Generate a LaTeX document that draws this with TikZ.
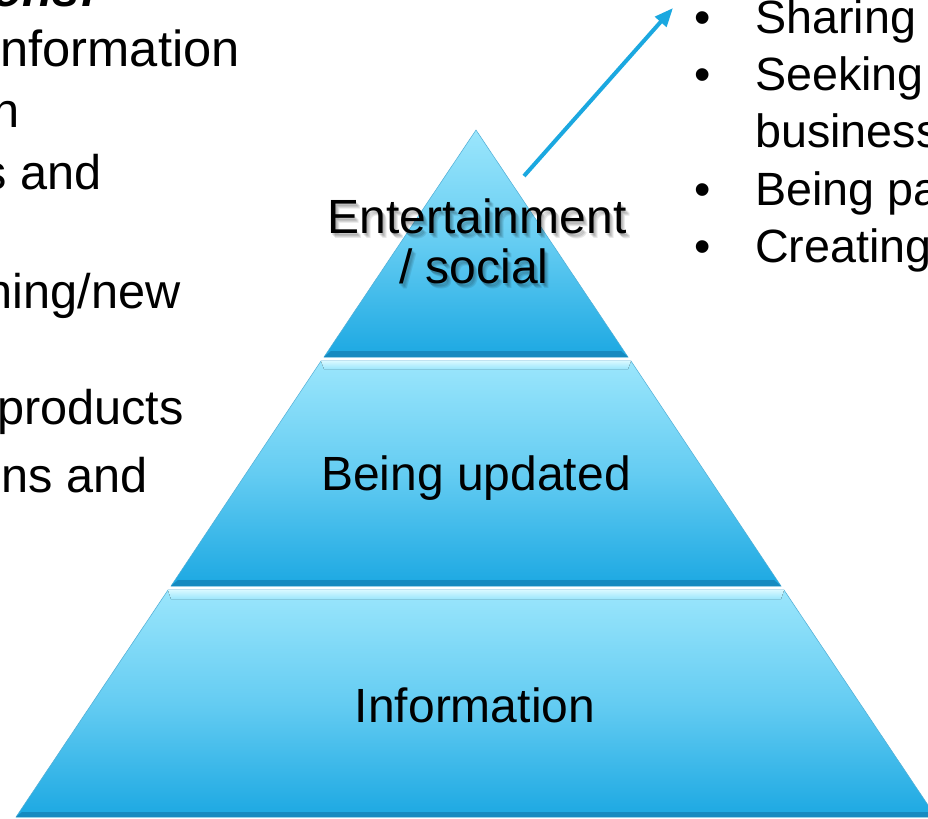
\documentclass[tikz,border=0pt]{standalone}
\usepackage{fontspec}
\setmainfont{Liberation Sans}
\usetikzlibrary{arrows.meta}
\definecolor{tiertop}{RGB}{155,230,252}
\definecolor{tiermid}{RGB}{100,204,242}
\definecolor{tierbot}{RGB}{28,168,226}
\definecolor{bevdark}{RGB}{22,138,192}
\definecolor{bevlight}{RGB}{215,248,255}
\definecolor{edgeblue}{RGB}{80,175,215}
\definecolor{arrowblue}{RGB}{27,168,224}
\tikzset{
  tier/.style={top color=tiertop, bottom color=tierbot, middle color=tiermid, draw=edgeblue, line width=0.4pt},
  bevbottom/.style={fill=bevdark, draw=none},
  bevtop/.style={top color=bevlight, bottom color=tiertop, draw=none},
  tierlabel/.style={font=\fontsize{36}{40}\selectfont, inner sep=0pt, anchor=base},
  shadowlabel/.style={tierlabel, text=black, opacity=0.09},
  lefttext/.style={font=\fontsize{36.5}{42}\selectfont, inner sep=0pt, anchor=base east},
  righttext/.style={font=\fontsize{35}{40}\selectfont, inner sep=0pt, anchor=base west},
  arrowline/.style={draw=arrowblue, line width=3pt, -{Triangle[length=14pt,width=11pt]}}
}
\begin{document}
\begin{tikzpicture}[x=0.75pt,y=-0.75pt]
\clip (0,0) rectangle (928,818);
\fill[white] (0,0) rectangle (928,818);

% tier 1 (top)
\path[tier] (476,130) -- (628,357) -- (324,357) -- cycle;
\fill[bevbottom] (324,357) -- (628,357) -- (621,351) -- (331,351) -- cycle;
% tier 2
\path[tier] (321,361) -- (631,361) -- (781,586) -- (171,586) -- cycle;
\fill[bevtop] (321,361) -- (631,361) -- (628,369) -- (324,369) -- cycle;
\fill[bevbottom] (171,586) -- (781,586) -- (774,580) -- (178,580) -- cycle;
% tier 3
\path[tier] (168,590) -- (784,590) -- (936,817) -- (16,817) -- cycle;
\fill[bevtop] (168,590) -- (784,590) -- (781,599) -- (171,599) -- cycle;
\fill[bevbottom] (16,817) -- (936,817) -- (930,812) -- (22,812) -- cycle;

% labels in the pyramid (soft shadow on the top label)
\foreach \dx/\dy in {1/2,2/3,3/4,4/5}{
  \node[shadowlabel] at (477+\dx,233+\dy) {Entertainment};
  \node[shadowlabel] at (474+\dx,283+\dy) {/ social};
}
\node[tierlabel] (ent) at (477,233) {Entertainment};
\node[tierlabel] (soc) at (474,283) {/ social};
\node[tierlabel] (upd) at (476,490) {Being updated};
\node[tierlabel] (inf) at (475,722) {Information};

% arrow
\coordinate (arrS) at (524,176);
\coordinate (arrE) at (673,8);
\draw[arrowline] (arrS) -- (arrE);

% left text (cut off)
\node[lefttext, font=\fontsize{37}{42}\selectfont\bfseries\itshape] (l0) at (97,6) {ons:};
\node[lefttext, font=\fontsize{38}{42}\selectfont] (l1) at (240,66) {nformation};
\node[lefttext] (l2) at (20,127) {n};
\node[lefttext] (l3) at (102,189) {s and};
\node[lefttext] (l4) at (181,308) {ning/new};
\node[lefttext] (l5) at (184,424) {products};
\node[lefttext] (l6) at (148,492) {ns and};

% right bullets (cut off)
\foreach \b/\y in {b1/33,b2/90,b3/205,b4/262}{
  \node[righttext] (\b) at (694,\y) {•};
}
\node[righttext] (r1) at (755,33) {Sharing};
\node[righttext] (r2) at (755,90) {Seeking};
\node[righttext] (r3) at (755,147) {business};
\node[righttext] (r4) at (755,205) {Being pa};
\node[righttext] (r5) at (755,262) {Creating};
\end{tikzpicture}
\end{document}
